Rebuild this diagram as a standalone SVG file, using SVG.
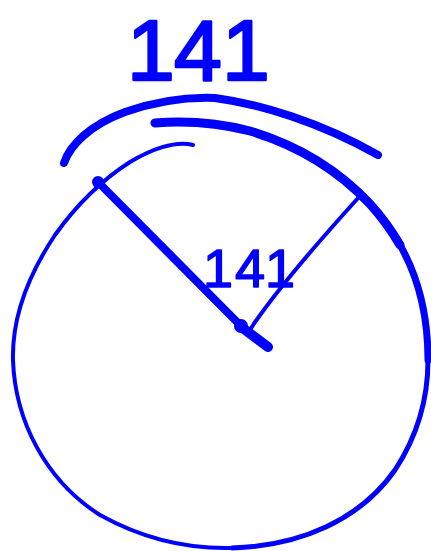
<svg xmlns="http://www.w3.org/2000/svg" width="431" height="551" viewBox="0 0 431 551">
<style>
.s{fill:none;stroke:#0000ff;stroke-linecap:round;stroke-linejoin:round}
.t{fill:#0000ff;stroke:#0000ff;stroke-linejoin:round;font-family:"Liberation Sans",Arial,sans-serif;text-anchor:middle}
</style>
<rect width="431" height="551" fill="#ffffff"/>
<g id="circle">
<path class="s" stroke-width="4" d="M193,145 C175,140 150,150 130,162 C105,178 80,200 55,235 C25,280 12,320 13,360 C15,420 45,480 100,515 C145,540 190,549 232,548"/>
<path class="s" stroke-width="5" d="M232,548 C300,546 360,520 395,470 C418,435 428,400 428,360"/>
<path class="s" stroke-width="7" d="M428,360 C428,320 420,280 400,245"/>
<path class="s" stroke-width="9" d="M400,245 C390,228 380,215 370,204 C340,172 300,146 250,131 C215,122 180,121 155,123"/>
</g>
<g id="outer-arc">
<path class="s" stroke-width="8" d="M64,163 C70,145 90,125 125,112 C160,100 190,97 215,98 C260,104 320,122 378,155"/>
</g>
<g id="connectors">
<path class="s" stroke-width="8" d="M98,182 L240,325"/>
<circle cx="98" cy="182" r="6" fill="#0000ff"/>
<circle cx="241" cy="326" r="7" fill="#0000ff"/>
<path class="s" stroke-width="10" d="M240,326 L268,347"/>
<path class="s" stroke-width="4" d="M359,197 C320,240 285,280 258,318 C254,323 252,327 250,330"/>
</g>
<g id="labels">
<text class="t" font-size="86" stroke-width="2.5" y="80"><tspan x="151">1</tspan><tspan x="198">4</tspan><tspan x="246">1</tspan></text>
<text class="t" font-size="54" stroke-width="1.5" y="287"><tspan x="218">1</tspan><tspan x="250">4</tspan><tspan x="280">1</tspan></text>
</g>
</svg>
